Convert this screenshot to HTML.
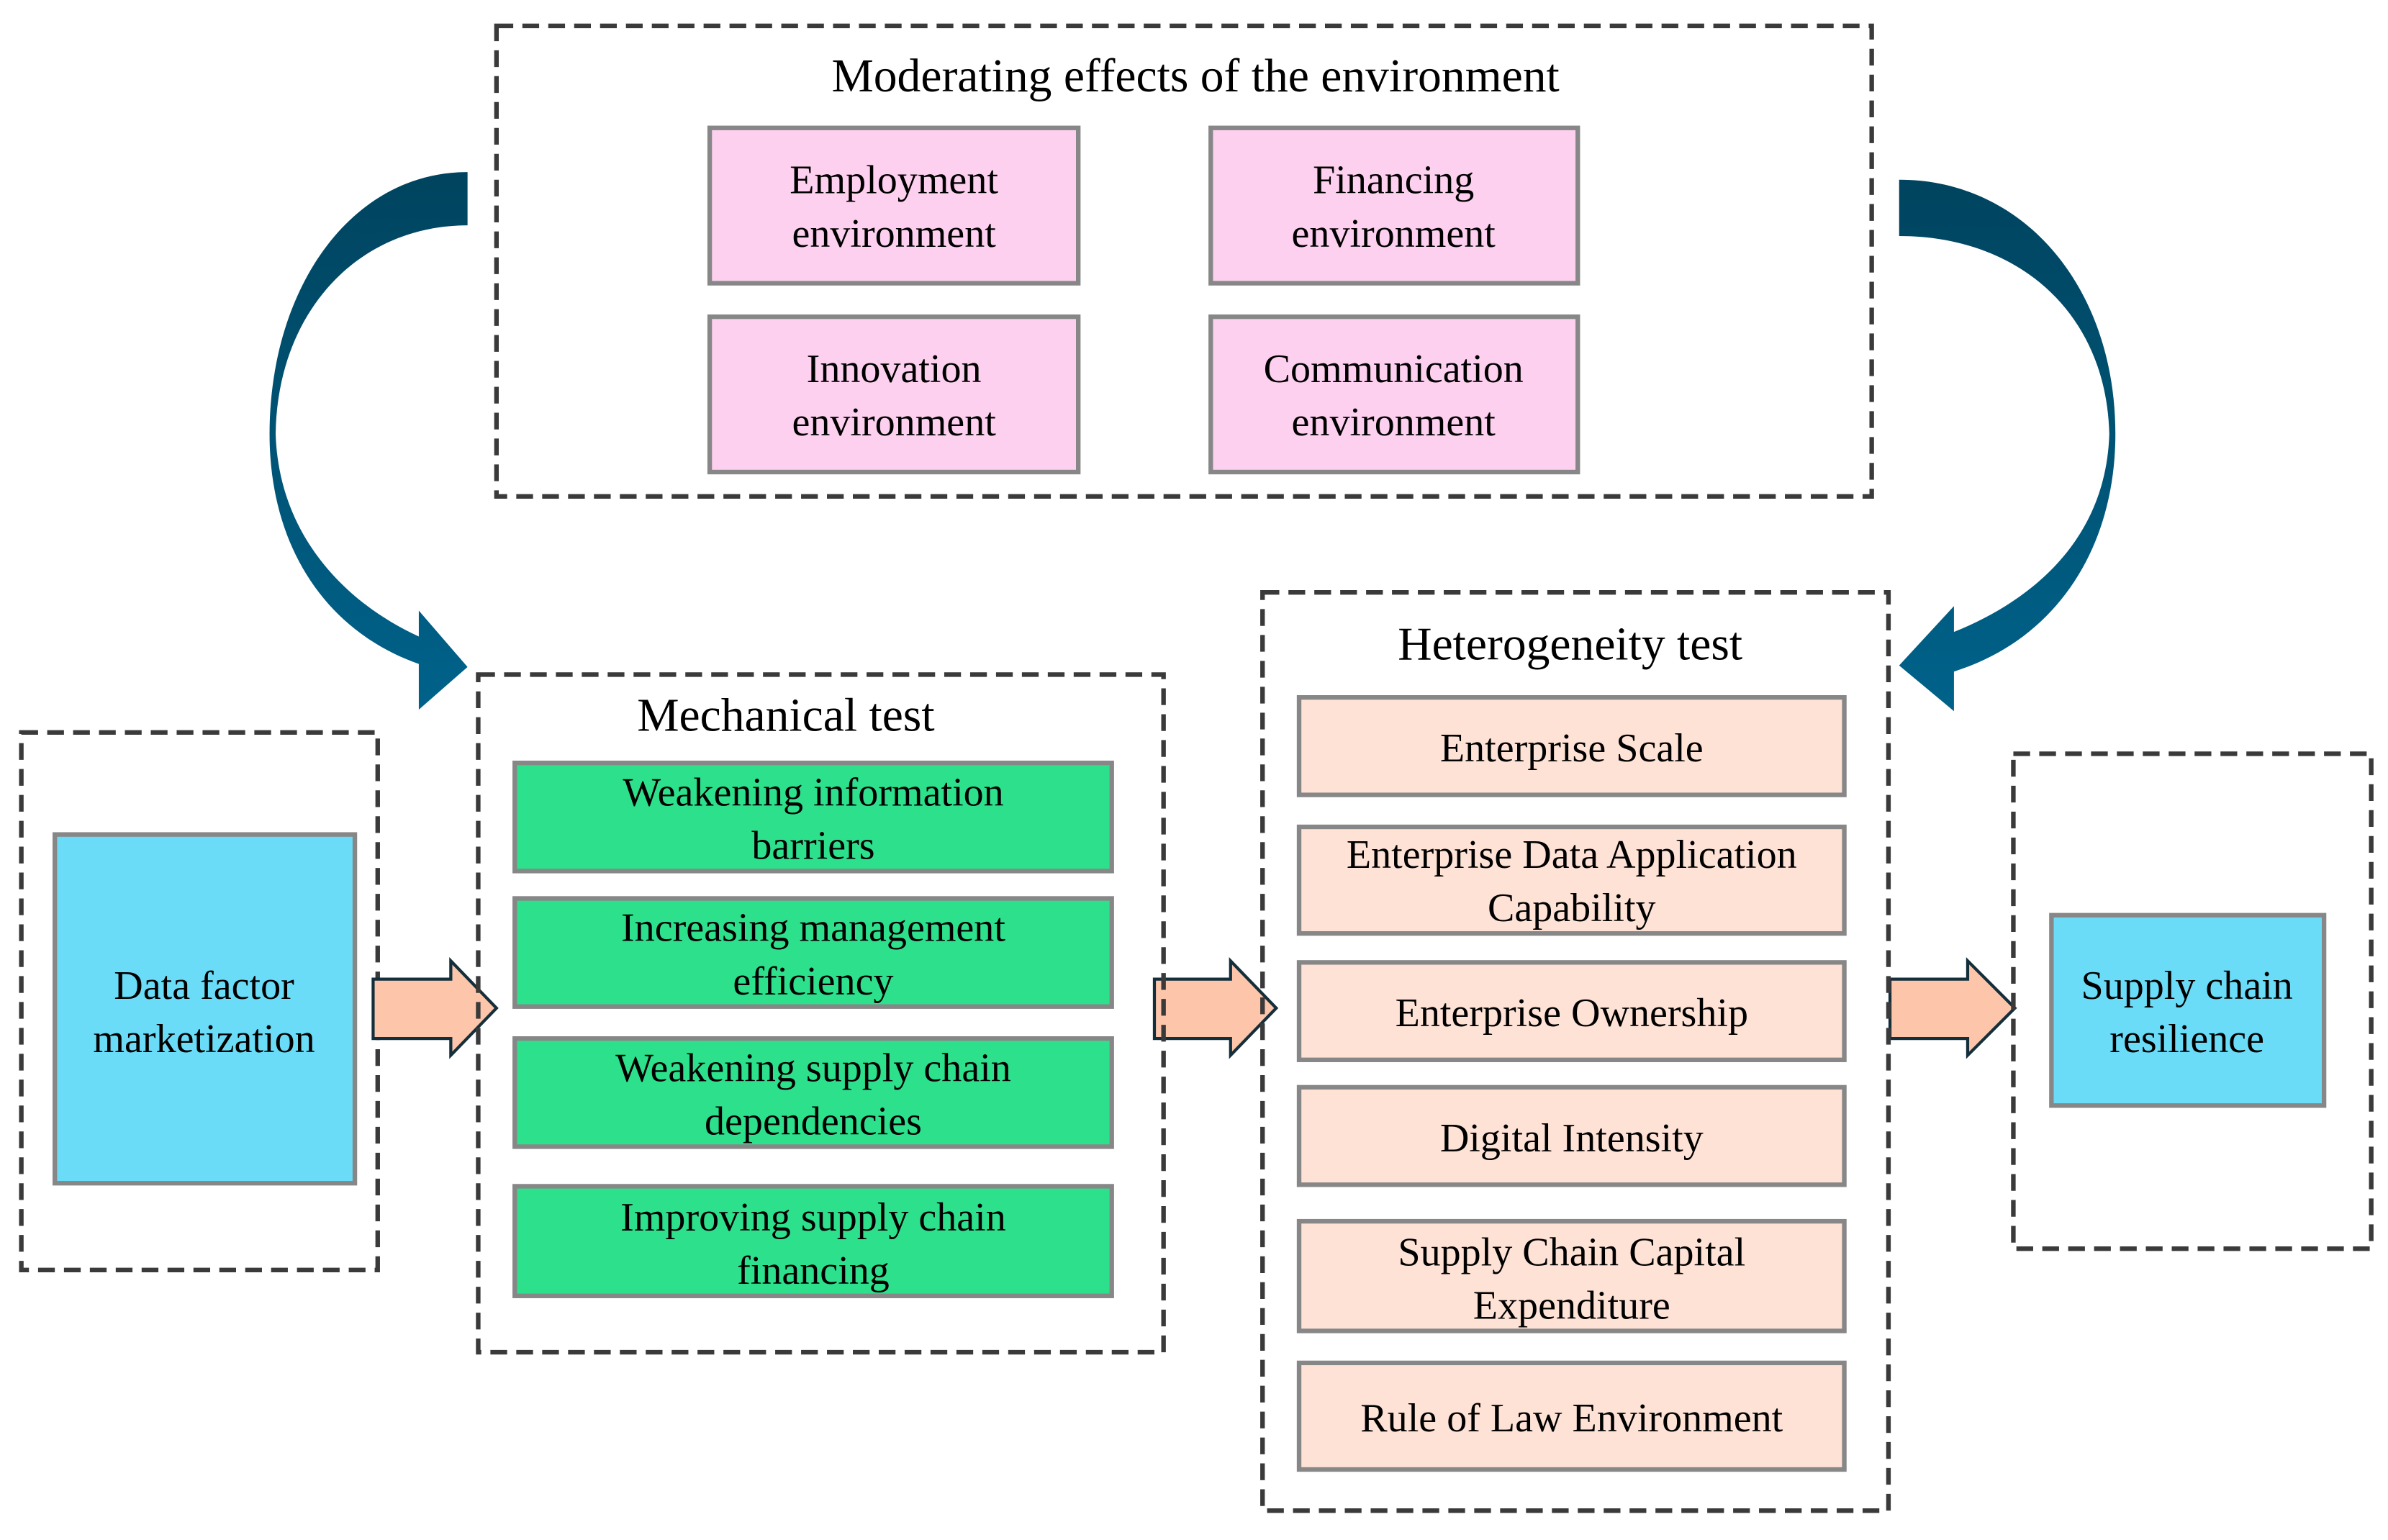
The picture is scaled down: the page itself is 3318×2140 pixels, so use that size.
<!DOCTYPE html>
<html><head><meta charset="utf-8"><style>
html,body{margin:0;padding:0;background:#fff;}
svg{display:block;}
text{font-family:"Liberation Serif",serif;fill:#000;text-anchor:middle;}
.t{font-size:31px;}
.b{font-size:26.5px;}
.dash{fill:none;stroke:#3a3a3a;stroke-width:3;stroke-dasharray:11,6;}
.pk{fill:#fcd0ee;stroke:#878787;stroke-width:3;}
.gr{fill:#2de08c;stroke:#878787;stroke-width:3;}
.pe{fill:#fee2d6;stroke:#878787;stroke-width:3;}
.bl{fill:#6bdcf7;stroke:#878787;stroke-width:3;}
.ar{fill:#fdc6aa;stroke:#142f3c;stroke-width:2;}
</style></head><body>
<svg width="3318" height="2140" viewBox="0 0 1568 1011.3" preserveAspectRatio="none" xmlns="http://www.w3.org/2000/svg">
<defs>
<linearGradient id="g" x1="0" y1="0" x2="0" y2="1">
<stop offset="0" stop-color="#00445f"/><stop offset="1" stop-color="#00628a"/>
</linearGradient>
</defs>
<!-- top box -->
<rect class="dash" x="326" y="17" width="903" height="309"/>
<text class="t" x="785" y="60">Moderating effects of the environment</text>
<rect class="pk" x="466" y="84" width="242" height="102"/>
<text class="b" x="587" y="127">Employment</text><text class="b" x="587" y="162">environment</text>
<rect class="pk" x="795" y="84" width="241" height="102"/>
<text class="b" x="915" y="127">Financing</text><text class="b" x="915" y="162">environment</text>
<rect class="pk" x="466" y="208" width="242" height="102"/>
<text class="b" x="587" y="251">Innovation</text><text class="b" x="587" y="286">environment</text>
<rect class="pk" x="795" y="208" width="241" height="102"/>
<text class="b" x="915" y="251">Communication</text><text class="b" x="915" y="286">environment</text>

<!-- curved arrows -->
<path fill="url(#g)" d="M307,113 C230,113 177,190 177,285 C177,360 215,415 275,436 L275,466 L307,438 L275,401 L275,418 C225,395 183,350 181,285 C182,205 235,148 307,148 Z"/>
<path fill="url(#g)" d="M1247,118 C1330,118 1389,190 1389,285 C1389,360 1350,420 1283,441 L1283,467 L1247,437 L1283,398 L1283,415 C1340,392 1383,350 1385,285 C1383,205 1325,155 1247,155 Z"/>

<!-- data factor -->
<rect class="dash" x="14" y="481" width="234" height="353"/>
<rect class="bl" x="36" y="548" width="197" height="229"/>
<text class="b" x="134" y="656">Data factor</text><text class="b" x="134" y="691">marketization</text>

<!-- arrows -->
<path class="ar" d="M245,643 L296,643 L296,631 L326,662 L296,693 L296,682 L245,682 Z"/>
<path class="ar" d="M758,643 L808,643 L808,631 L838,662 L808,693 L808,682 L758,682 Z"/>
<path class="ar" d="M1241,643 L1292,643 L1292,631 L1323,662 L1292,693 L1292,682 L1241,682 Z"/>

<!-- mechanical -->
<rect class="dash" x="314" y="443" width="450" height="445"/>
<text class="t" x="516" y="480">Mechanical test</text>
<rect class="gr" x="338" y="501" width="392" height="71"/>
<text class="b" x="534" y="529">Weakening information</text><text class="b" x="534" y="564">barriers</text>
<rect class="gr" x="338" y="590" width="392" height="71"/>
<text class="b" x="534" y="618">Increasing management</text><text class="b" x="534" y="653">efficiency</text>
<rect class="gr" x="338" y="682" width="392" height="71"/>
<text class="b" x="534" y="710">Weakening supply chain</text><text class="b" x="534" y="745">dependencies</text>
<rect class="gr" x="338" y="779" width="392" height="72"/>
<text class="b" x="534" y="808">Improving supply chain</text><text class="b" x="534" y="843">financing</text>

<!-- heterogeneity -->
<rect class="dash" x="829" y="389" width="411" height="603"/>
<text class="t" x="1031" y="433">Heterogeneity test</text>
<rect class="pe" x="853" y="458" width="358" height="64"/>
<text class="b" x="1032" y="500">Enterprise Scale</text>
<rect class="pe" x="853" y="543" width="358" height="70"/>
<text class="b" x="1032" y="570">Enterprise Data Application</text><text class="b" x="1032" y="605">Capability</text>
<rect class="pe" x="853" y="632" width="358" height="64"/>
<text class="b" x="1032" y="674">Enterprise Ownership</text>
<rect class="pe" x="853" y="714" width="358" height="64"/>
<text class="b" x="1032" y="756">Digital Intensity</text>
<rect class="pe" x="853" y="802" width="358" height="72"/>
<text class="b" x="1032" y="831">Supply Chain Capital</text><text class="b" x="1032" y="866">Expenditure</text>
<rect class="pe" x="853" y="895" width="358" height="70"/>
<text class="b" x="1032" y="940">Rule of Law Environment</text>

<!-- supply chain resilience -->
<rect class="dash" x="1322" y="495" width="235" height="325"/>
<rect class="bl" x="1347" y="601" width="179" height="125"/>
<text class="b" x="1436" y="656">Supply chain</text><text class="b" x="1436" y="691">resilience</text>
</svg>
</body></html>
